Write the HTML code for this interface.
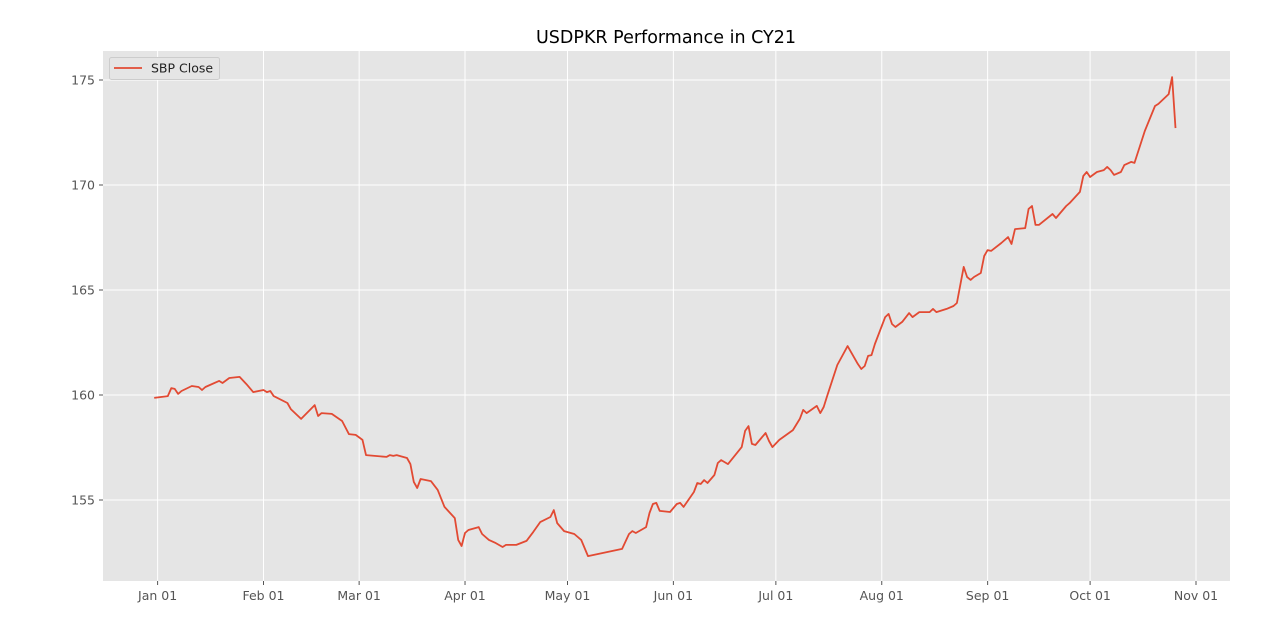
<!DOCTYPE html>
<html><head><meta charset="utf-8"><style>
body{margin:0;background:#fff;}
svg{display:block;font-family:"DejaVu Sans","Liberation Sans",sans-serif;}
</style></head><body>
<svg id="chart" width="1280" height="632">
<text x="666" y="43" text-anchor="middle" font-size="17.5" fill="#000">USDPKR Performance in CY21</text>
<rect x="103" y="51" width="1127" height="530" fill="#E5E5E5"/>
<g id="grid"></g><g id="ticks"></g>
<polyline id="line" fill="none" stroke="#E24A33" stroke-width="1.8" stroke-linejoin="round"/>
<g>
<rect x="109.5" y="57.5" width="110" height="22" rx="2" fill="#E5E5E5" stroke="#CCCCCC"/>
<line x1="114" y1="68" x2="142" y2="68" stroke="#E24A33" stroke-width="1.8"/>
<text x="151" y="72.5" font-size="12.5" fill="#222">SBP Close</text>
</g>
</svg>
<script>
const days=[-1,3,4,5,6,7,10,12,13,14,18,19,21,24,26,28,31,32,33,34,38,39,42,46,47,48,51,54,56,58,60,61,67,68,69,70,73,74,75,76,77,80,82,84,87,88,89,90,91,94,95,97,99,101,102,105,108,110,112,115,116,117,119,122,124,126,136,138,139,140,143,144,145,146,147,150,152,153,154,157,158,159,160,161,163,164,165,167,171,172,173,174,175,178,179,180,182,186,188,189,190,193,194,195,196,199,202,205,206,207,208,209,210,213,214,215,216,218,220,221,223,226,227,228,231,233,234,236,237,238,239,241,242,243,244,247,249,250,251,254,255,256,257,258,262,263,264,266,267,270,271,272,273,275,277,278,279,280,282,283,285,286,289,292,293,296,297,298];
const closeValues=[159.86,159.95,160.33,160.29,160.05,160.19,160.43,160.38,160.24,160.38,160.67,160.57,160.81,160.86,160.52,160.14,160.24,160.14,160.19,159.95,159.62,159.33,158.86,159.52,159.00,159.14,159.10,158.76,158.14,158.10,157.86,157.14,157.05,157.14,157.10,157.14,157.00,156.71,155.86,155.57,156.00,155.90,155.48,154.67,154.14,153.10,152.81,153.43,153.57,153.71,153.38,153.10,152.95,152.76,152.86,152.86,153.05,153.48,153.95,154.19,154.52,153.90,153.52,153.38,153.10,152.33,152.67,153.38,153.52,153.43,153.71,154.38,154.81,154.86,154.48,154.43,154.81,154.86,154.67,155.38,155.81,155.76,155.95,155.81,156.19,156.76,156.90,156.71,157.52,158.29,158.52,157.67,157.62,158.19,157.81,157.52,157.86,158.33,158.86,159.29,159.14,159.48,159.14,159.43,159.95,161.43,162.33,161.48,161.24,161.38,161.86,161.90,162.43,163.71,163.86,163.38,163.24,163.48,163.90,163.71,163.95,163.95,164.10,163.95,164.10,164.24,164.38,166.10,165.62,165.48,165.62,165.81,166.62,166.90,166.86,167.24,167.52,167.19,167.90,167.95,168.86,169.00,168.10,168.10,168.62,168.43,168.62,169.00,169.14,169.67,170.43,170.62,170.38,170.62,170.71,170.86,170.71,170.48,170.62,170.95,171.10,171.05,172.57,173.76,173.86,174.33,175.14,172.71];
const xTickDays=[0,31,59,90,120,151,181,212,243,273,304];
const xTickLabels=["Jan 01","Feb 01","Mar 01","Apr 01","May 01","Jun 01","Jul 01","Aug 01","Sep 01","Oct 01","Nov 01"];
const yTicks=[155,160,165,170,175];
const X=d=>157.6+(d)*(1196-157.6)/304;
const Y=v=>395-(v-160)*21;
const NS="http://www.w3.org/2000/svg";
const grid=document.getElementById('grid'),ticks=document.getElementById('ticks');
function mk(tag,attrs,parent){const e=document.createElementNS(NS,tag);for(const k in attrs)e.setAttribute(k,attrs[k]);parent.appendChild(e);return e;}
xTickDays.forEach((d,i)=>{
 const x=X(d);
 const g=mk('line',{x1:x,x2:x,y1:51,y2:581,stroke:'#fff','stroke-width':1},grid);
 
 
 const t=mk('line',{x1:x,x2:x,y1:581,y2:585,stroke:'#555','stroke-width':1},ticks);
 
 
 const l=mk('text',{x:x,y:600,'text-anchor':'middle','font-size':12.5,fill:'#555'},ticks);
 l.textContent=xTickLabels[i];
 
 
});
yTicks.forEach(v=>{
 const y=Y(v);
 const g=mk('line',{x1:103,x2:1230,y1:y,y2:y,stroke:'#fff','stroke-width':1},grid);
 
 
 const t=mk('line',{x1:99,x2:103,y1:y,y2:y,stroke:'#555','stroke-width':1},ticks);
 
 
 const l=mk('text',{x:95,y:y+4.5,'text-anchor':'end','font-size':12.5,fill:'#555'},ticks);
 l.textContent=v;
 
 
});
document.getElementById('line').setAttribute('points',days.map((d,i)=>X(d).toFixed(1)+','+Y(closeValues[i]).toFixed(1)).join(' '));
</script>
</body></html>
